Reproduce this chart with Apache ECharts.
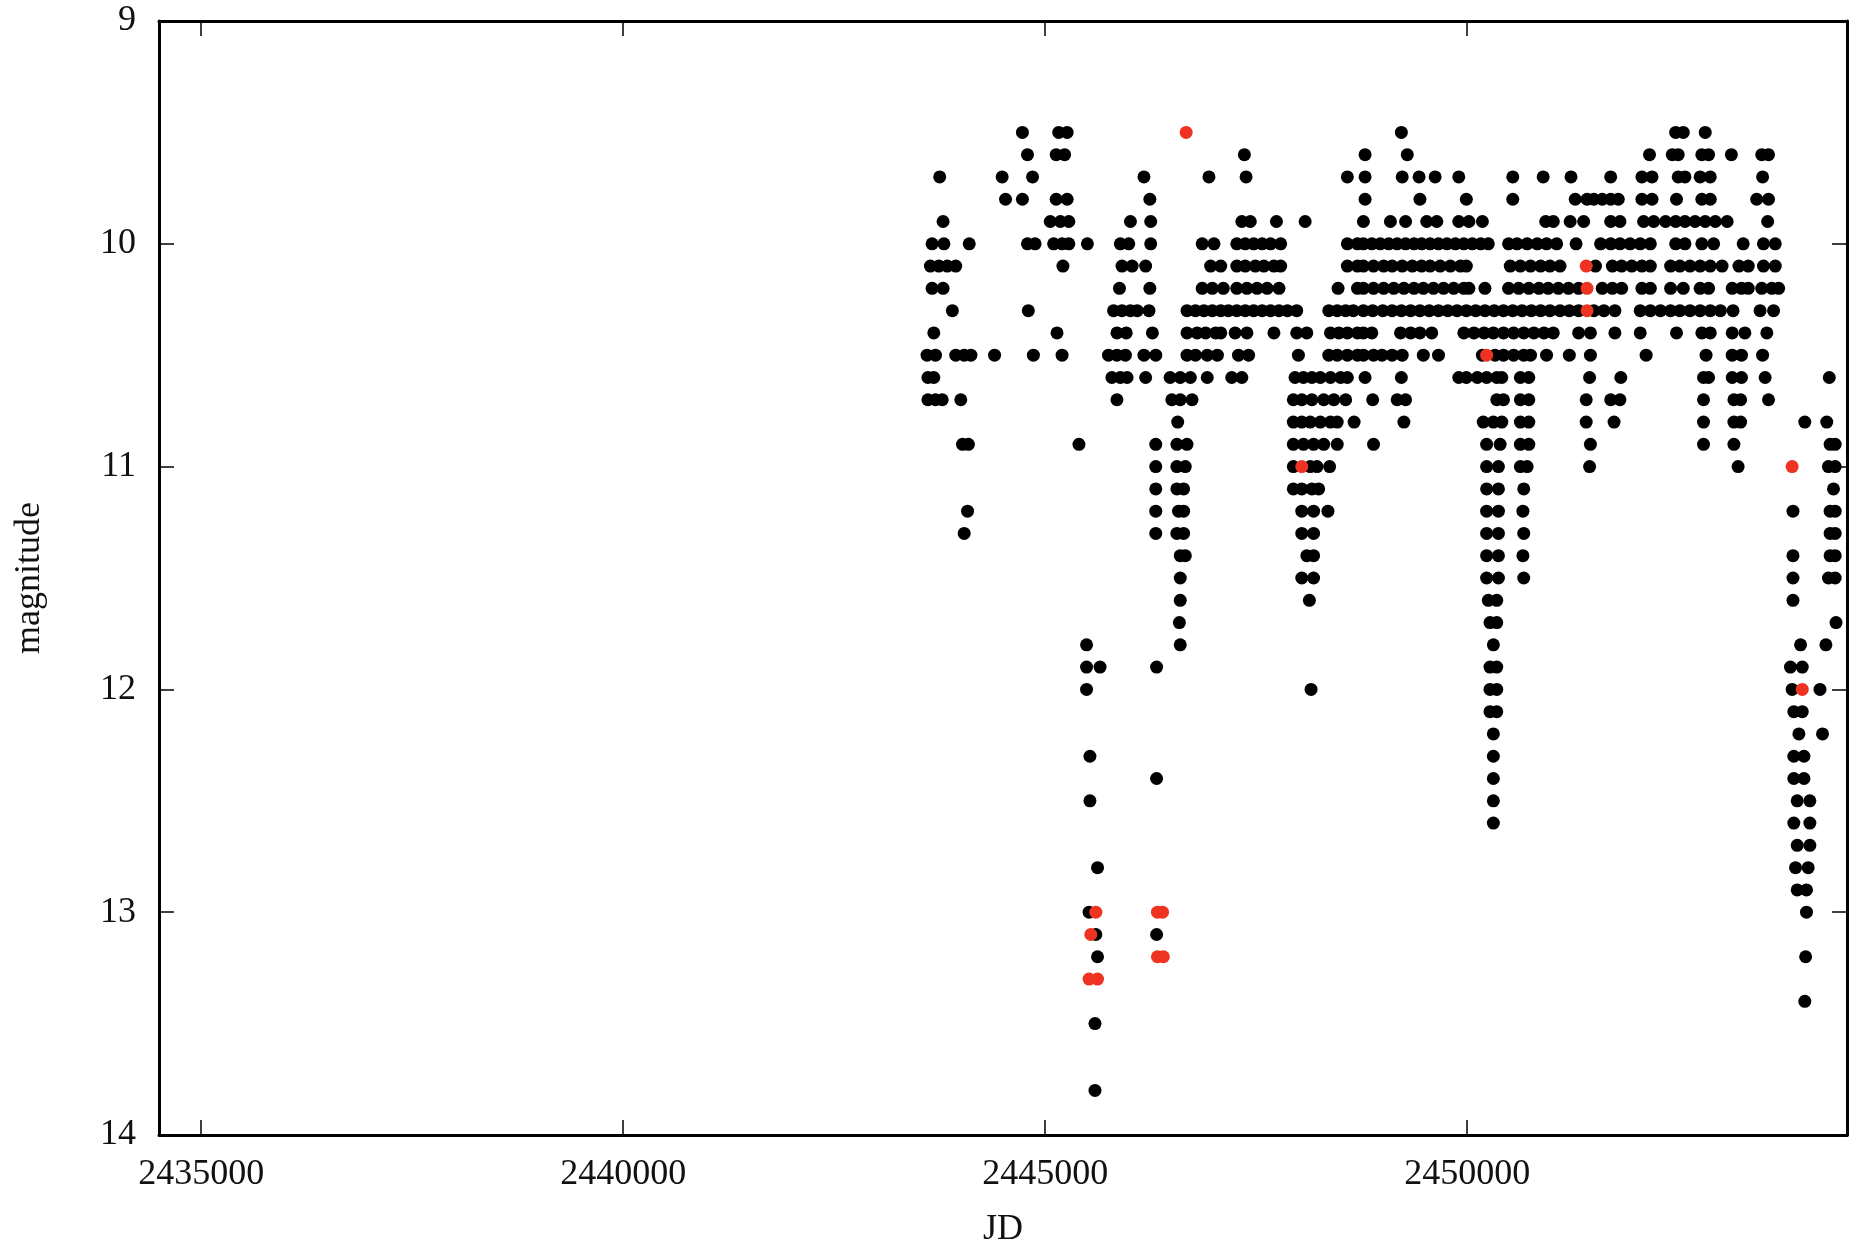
<!DOCTYPE html>
<html>
<head>
<meta charset="utf-8">
<script src="https://cdn.jsdelivr.net/npm/echarts@6/dist/echarts.min.js"></script>
<style>
  html, body { margin: 0; padding: 0; background: #ffffff; }
  #chart { width: 1858px; height: 1253px; }
</style>
</head>
<body>
<div id="chart"></div>
<script>
// Axis ranges and tick positions
const jdRange = [2434500, 2454500];
const jdTicks = [2435000, 2440000, 2445000, 2450000];
const magRange = [9, 14];
const magTicks = [9, 10, 11, 12, 13, 14];

// Visual estimates, grouped by magnitude: [magnitude, [JD, ...]]
const visualRows = [
  [9.5, [2444730, 2445160, 2445260, 2449220, 2452470, 2452560, 2452820]],
  [9.6, [2444790, 2445130, 2445230, 2447360, 2448790, 2449290, 2452160, 2452430, 2452500, 2452780, 2452860, 2453130, 2453490, 2453570]],
  [9.7, [2443750, 2444490, 2444850, 2446170, 2446940, 2447380, 2448580, 2448790, 2449230, 2449430, 2449620, 2449900, 2450540, 2450900, 2451230, 2451700, 2452070, 2452190, 2452500, 2452580, 2452760, 2452880, 2453500]],
  [9.8, [2444530, 2444730, 2445130, 2445260, 2446240, 2448790, 2449440, 2449990, 2450540, 2451280, 2451420, 2451500, 2451600, 2451700, 2451790, 2452070, 2452190, 2452480, 2452780, 2452880, 2453430, 2453570]],
  [9.9, [2443790, 2445060, 2445180, 2445280, 2446010, 2446250, 2447330, 2447430, 2447740, 2448080, 2448770, 2449090, 2449270, 2449520, 2449640, 2449900, 2450020, 2450180, 2450930, 2451020, 2451220, 2451380, 2451700, 2451810, 2452090, 2452210, 2452350, 2452470, 2452580, 2452700, 2452820, 2452940, 2453080, 2453560]],
  [10.0, [2443660, 2443800, 2444100, 2444790, 2444880, 2445100, 2445200, 2445280, 2445500, 2445890, 2445990, 2446250, 2446860, 2447000, 2447270, 2447370, 2447470, 2447570, 2447670, 2447790, 2448580, 2448700, 2448770, 2448870, 2448970, 2449070, 2449170, 2449270, 2449370, 2449460, 2449560, 2449660, 2449760, 2449860, 2449960, 2450060, 2450160, 2450250, 2450490, 2450590, 2450710, 2450830, 2450940, 2451060, 2451290, 2451580, 2451700, 2451810, 2451930, 2452050, 2452170, 2452470, 2452580, 2452780, 2452920, 2453270, 2453510, 2453650]],
  [10.1, [2443640, 2443740, 2443840, 2443940, 2445210, 2445910, 2446030, 2446190, 2446960, 2447080, 2447270, 2447370, 2447490, 2447590, 2447710, 2447790, 2448580, 2448700, 2448770, 2448890, 2449010, 2449110, 2449230, 2449350, 2449460, 2449560, 2449680, 2449800, 2449920, 2449990, 2450510, 2450630, 2450750, 2450870, 2450980, 2451100, 2451520, 2451720, 2451830, 2451950, 2452070, 2452170, 2452410, 2452520, 2452640, 2452760, 2452880, 2453020, 2453220, 2453330, 2453510, 2453650]],
  [10.2, [2443660, 2443790, 2445880, 2446240, 2446860, 2446980, 2447110, 2447270, 2447390, 2447510, 2447630, 2447770, 2448470, 2448700, 2448770, 2448890, 2449010, 2449130, 2449250, 2449370, 2449480, 2449600, 2449720, 2449840, 2449960, 2450020, 2450210, 2450490, 2450610, 2450730, 2450850, 2450960, 2451080, 2451200, 2451320, 2451600, 2451720, 2451830, 2452070, 2452170, 2452410, 2452560, 2452760, 2452860, 2453140, 2453250, 2453330, 2453490, 2453610, 2453690]],
  [10.3, [2443900, 2444800, 2445810, 2445910, 2446010, 2446090, 2446230, 2446680, 2446780, 2446880, 2446980, 2447080, 2447170, 2447270, 2447370, 2447470, 2447570, 2447670, 2447770, 2447870, 2447980, 2448360, 2448460, 2448560, 2448650, 2448770, 2448880, 2449000, 2449110, 2449220, 2449330, 2449440, 2449550, 2449660, 2449770, 2449880, 2449990, 2450100, 2450210, 2450320, 2450430, 2450540, 2450650, 2450760, 2450870, 2450980, 2451100, 2451210, 2451320, 2451500, 2451620, 2451750, 2452050, 2452170, 2452290, 2452410, 2452520, 2452640, 2452760, 2452880, 2453000, 2453150, 2453470, 2453630]],
  [10.4, [2443680, 2445140, 2445850, 2445960, 2446270, 2446680, 2446800, 2446900, 2447020, 2447080, 2447250, 2447390, 2447710, 2447980, 2448100, 2448380, 2448480, 2448580, 2448700, 2448770, 2448870, 2449210, 2449330, 2449440, 2449580, 2449960, 2450080, 2450200, 2450310, 2450430, 2450550, 2450670, 2450790, 2450910, 2451020, 2451320, 2451460, 2451750, 2452050, 2452480, 2452780, 2452880, 2453140, 2453290, 2453550]],
  [10.5, [2443600, 2443700, 2443940, 2444040, 2444120, 2444400, 2444860, 2445200, 2445750, 2445850, 2445950, 2446170, 2446310, 2446680, 2446780, 2446920, 2447040, 2447290, 2447410, 2448000, 2448360, 2448460, 2448580, 2448700, 2448770, 2448890, 2448990, 2449110, 2449230, 2449480, 2449660, 2450180, 2450330, 2450430, 2450550, 2450670, 2450750, 2450940, 2451210, 2451460, 2452120, 2452830, 2453140, 2453250, 2453500]],
  [10.6, [2443610, 2443680, 2445790, 2445890, 2445970, 2446190, 2446480, 2446600, 2446720, 2446920, 2447210, 2447330, 2447960, 2448060, 2448160, 2448260, 2448380, 2448500, 2448580, 2448790, 2449220, 2449900, 2449990, 2450120, 2450230, 2450350, 2450410, 2450630, 2450730, 2451450, 2451820, 2452800, 2452860, 2453140, 2453250, 2453530, 2454290]],
  [10.7, [2443610, 2443700, 2443780, 2444000, 2445850, 2446500, 2446600, 2446740, 2447940, 2448040, 2448160, 2448300, 2448420, 2448560, 2448880, 2449170, 2449270, 2450350, 2450430, 2450630, 2450730, 2451410, 2451700, 2451810, 2452800, 2453160, 2453240, 2453570]],
  [10.8, [2446570, 2447940, 2448040, 2448140, 2448260, 2448380, 2448460, 2448660, 2449250, 2450190, 2450310, 2450410, 2450630, 2450730, 2451410, 2451740, 2452800, 2453160, 2453240, 2454000, 2454260]],
  [10.9, [2444020, 2444090, 2445400, 2446310, 2446560, 2446680, 2447940, 2448060, 2448180, 2448300, 2448460, 2448890, 2450230, 2450390, 2450630, 2450730, 2451460, 2452800, 2453160, 2454300, 2454360]],
  [11.0, [2446310, 2446560, 2446660, 2447940, 2448140, 2448220, 2448370, 2450230, 2450370, 2450630, 2450710, 2451450, 2453210, 2454280, 2454360]],
  [11.1, [2446310, 2446560, 2446640, 2447940, 2448040, 2448160, 2448240, 2450230, 2450370, 2450670, 2454340]],
  [11.2, [2444080, 2446310, 2446580, 2446640, 2448040, 2448180, 2448350, 2450230, 2450370, 2450660, 2453860, 2454300, 2454360]],
  [11.3, [2444040, 2446310, 2446560, 2446640, 2448040, 2448180, 2450230, 2450370, 2450670, 2454300, 2454360]],
  [11.4, [2446600, 2446660, 2448100, 2448180, 2450230, 2450370, 2450660, 2453860, 2454300, 2454360]],
  [11.5, [2446600, 2448040, 2448180, 2450230, 2450370, 2450670, 2453860, 2454280, 2454360]],
  [11.6, [2446600, 2448130, 2450250, 2450350, 2453860]],
  [11.7, [2446590, 2450270, 2450350, 2454370]],
  [11.8, [2445490, 2446600, 2450310, 2453950, 2454250]],
  [11.9, [2445490, 2445650, 2446320, 2450270, 2450350, 2453830, 2453970]],
  [12.0, [2445490, 2448150, 2450270, 2450350, 2453850, 2454180]],
  [12.1, [2450270, 2450350, 2453870, 2453970]],
  [12.2, [2450310, 2453930, 2454210]],
  [12.3, [2445530, 2450310, 2453870, 2453990]],
  [12.4, [2446320, 2450310, 2453870, 2453990]],
  [12.5, [2445530, 2450310, 2453910, 2454060]],
  [12.6, [2450310, 2453870, 2454060]],
  [12.7, [2453910, 2454060]],
  [12.8, [2445620, 2453890, 2454040]],
  [12.9, [2453910, 2454020]],
  [13.0, [2445520, 2454020]],
  [13.1, [2445600, 2446320]],
  [13.2, [2445620, 2454010]],
  [13.4, [2454000]],
  [13.5, [2445590]],
  [13.8, [2445590]]
];

// Second set of estimates, drawn in red: [JD, magnitude]
const redObs = [
  [2446670, 9.5], [2451410, 10.1], [2451420, 10.2], [2451420, 10.3],
  [2450230, 10.5], [2448040, 11.0], [2453850, 11.0], [2453970, 12.0],
  [2445600, 13.0], [2445540, 13.1], [2445520, 13.3], [2445620, 13.3],
  [2446330, 13.0], [2446390, 13.0], [2446330, 13.2], [2446400, 13.2]
];

const blackObs = [];
visualRows.forEach(([mag, jds]) => jds.forEach(jd => blackObs.push([jd, mag])));

const FONT = "'Liberation Serif', 'DejaVu Serif', serif";
const INK = '#111111';
const FONT_SIZE = 36;

const frameLine = { show: true, onZero: false, lineStyle: { color: '#000', width: 3 } };
const tickStyle = { show: true, inside: true, length: 15, lineStyle: { color: '#000', width: 1.5 } };

const chart = echarts.init(document.getElementById('chart'), null, { renderer: 'canvas' });

chart.setOption({
  animation: false,
  backgroundColor: '#ffffff',
  grid: { left: 159, right: 11, top: 21, bottom: 112, containLabel: false },
  xAxis: [
    {
      type: 'value', position: 'bottom',
      min: jdRange[0], max: jdRange[1],
      name: 'JD', nameLocation: 'middle', nameGap: 77,
      nameTextStyle: { fontFamily: FONT, fontSize: FONT_SIZE, color: INK },
      axisLine: frameLine,
      axisTick: Object.assign({}, tickStyle, { customValues: jdTicks }),
      axisLabel: {
        customValues: jdTicks, margin: 22,
        fontFamily: FONT, fontSize: FONT_SIZE, color: INK,
        formatter: v => String(v)
      },
      splitLine: { show: false }
    },
    {
      type: 'value', position: 'top',
      min: jdRange[0], max: jdRange[1],
      axisLine: frameLine,
      axisTick: Object.assign({}, tickStyle, { customValues: jdTicks }),
      axisLabel: { show: false },
      splitLine: { show: false }
    }
  ],
  yAxis: [
    {
      type: 'value', position: 'left', inverse: true,
      min: magRange[0], max: magRange[1],
      name: 'magnitude', nameLocation: 'middle', nameGap: 111, nameRotate: 90,
      nameTextStyle: { fontFamily: FONT, fontSize: FONT_SIZE, color: INK },
      axisLine: frameLine,
      axisTick: Object.assign({}, tickStyle, { customValues: magTicks }),
      axisLabel: {
        customValues: magTicks, margin: 23,
        fontFamily: FONT, fontSize: FONT_SIZE, color: INK,
        formatter: v => String(v)
      },
      splitLine: { show: false }
    },
    {
      type: 'value', position: 'right', inverse: true,
      min: magRange[0], max: magRange[1],
      axisLine: frameLine,
      axisTick: Object.assign({}, tickStyle, { customValues: magTicks }),
      axisLabel: { show: false },
      splitLine: { show: false }
    }
  ],
  series: [
    {
      type: 'scatter', xAxisIndex: 0, yAxisIndex: 0,
      symbol: 'circle', symbolSize: 13,
      itemStyle: { color: '#000000', opacity: 1 },
      data: blackObs
    },
    {
      type: 'scatter', xAxisIndex: 0, yAxisIndex: 0,
      symbol: 'circle', symbolSize: 13,
      itemStyle: { color: '#ee3322', opacity: 1 },
      data: redObs
    }
  ]
});
</script>
</body>
</html>
